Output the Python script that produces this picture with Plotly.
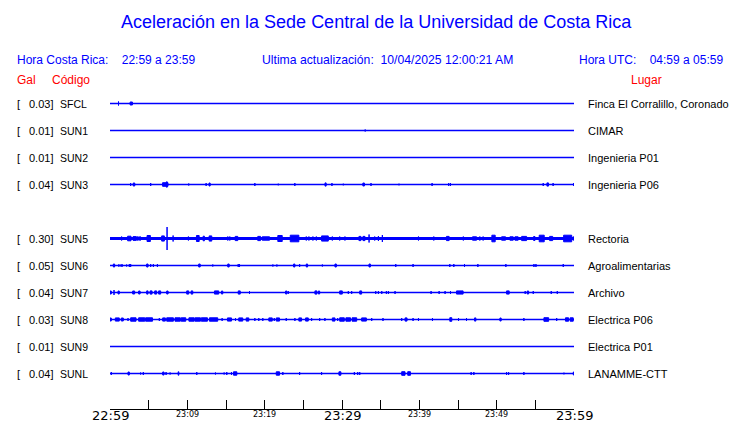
import plotly.graph_objects as go

# ---------------- data ----------------
TITLE = "Aceleración en la Sede Central de la Universidad de Costa Rica"
LOCAL_RANGE = "22:59 a 23:59"
UTC_RANGE = "04:59 a 05:59"
UPDATED = "10/04/2025 12:00:21 AM"

CODES = ["SFCL", "SUN1", "SUN2", "SUN3", "SUN5", "SUN6", "SUN7", "SUN8", "SUN9", "SUNL"]
PEAKS = [0.03, 0.01, 0.01, 0.04, 0.30, 0.05, 0.04, 0.03, 0.01, 0.04]
PLACES = ["Finca El Corralillo, Coronado", "CIMAR", "Ingenieria P01", "Ingenieria P06",
          "Rectoria", "Agroalimentarias", "Archivo", "Electrica P06", "Electrica P01",
          "LANAMME-CTT"]
ROWS = [0, 1, 2, 3, 5, 6, 7, 8, 9, 10]
NOISE = [0, 0, 0, 0, 1.0, 0, 0, 0, 0, 0]

TICK_MIN = list(range(0, 61, 5))
LABEL_MIN = [0, 10, 20, 30, 40, 50, 60]
LABEL_TEXT = ["22:59", "23:09", "23:19", "23:29", "23:39", "23:49", "23:59"]
LABEL_MAJOR = [True, False, False, True, False, False, True]

# events: (start minute, end minute, amplitude) minutes after 22:59
EV_SFCL = [(1.1, 1.1, 2.0), (2.6, 2.9, 1.5)]
EV_SUN1 = [(33.0, 33.0, 1.0)]
EV_SUN2 = []
EV_SUN3 = [(2.67, 2.67, 1.5), (3.0, 3.2, 1.5), (5.26, 5.26, 1.5), (6.8, 7.5, 1.8),
           (7.3, 7.4, 2.7), (10.18, 10.18, 1.0), (12.43, 12.43, 1.5), (12.8, 12.95, 1.5),
           (18.73, 18.73, 1.5), (21.76, 21.76, 0.8), (23.9, 23.9, 1.5), (27.8, 27.95, 1.6),
           (28.7, 28.7, 1.5), (30.17, 30.17, 0.8), (32.7, 32.9, 1.5), (33.75, 33.75, 1.5),
           (37.37, 37.37, 0.8), (41.65, 41.65, 1.5), (43.8, 43.8, 1.5), (44.03, 44.03, 1.5),
           (56.02, 56.02, 1.5), (56.5, 56.7, 1.6), (57.3, 57.3, 1.5), (59.96, 59.96, 1.5)]
EV_SUN5 = [(1.5, 1.5, 2), (2.28, 2.72, 2.3), (2.98, 3.41, 1.9), (3.57, 3.57, 2), (3.76, 3.76, 2),
           (3.92, 3.92, 2), (4.79, 5.22, 3.0), (6.68, 7.03, 2.6), (7.38, 7.38, 11.5),
           (8.16, 8.16, 3), (10.14, 10.14, 2), (11.18, 11.53, 3.0), (12.04, 12.21, 2.3),
           (12.82, 13.16, 2.6), (15.23, 15.23, 2), (15.49, 15.49, 2), (16.19, 16.52, 2.1),
           (19.11, 19.46, 2.1), (19.68, 20.63, 1.7), (21.7, 22.27, 3.0), (23.31, 24.42, 3.3),
           (25.38, 25.38, 2), (25.72, 25.72, 2), (26.24, 26.24, 2), (26.68, 26.68, 2),
           (27.36, 28.23, 2.6), (28.75, 28.75, 2), (29.7, 29.7, 2), (30.38, 30.38, 2),
           (32.19, 32.45, 2.1), (32.71, 32.97, 2.1), (33.5, 33.5, 4), (34.23, 34.23, 2),
           (34.71, 34.71, 2.5), (35.22, 35.22, 3.5), (39.89, 39.89, 2), (41.87, 41.87, 2),
           (43.51, 43.85, 2.1), (45.69, 45.69, 2), (46.88, 47.4, 1.7), (47.82, 47.82, 2),
           (48.25, 48.25, 2), (49.38, 49.81, 3.3), (50.64, 51.15, 1.7), (51.71, 52.14, 1.7),
           (52.36, 52.78, 1.7), (53.23, 53.87, 2.1), (54.78, 54.95, 2), (55.5, 56.15, 3.3),
           (56.85, 57.24, 2.1), (58.66, 59.7, 3.3), (59.91, 59.91, 2)]
EV_SUN6 = [(0.43, 0.6, 1.5), (1.11, 1.11, 1), (1.3, 1.3, 1), (1.55, 1.55, 1.5), (2.15, 2.15, 1),
           (2.5, 2.5, 1.5), (2.67, 2.67, 1.5), (4.74, 4.92, 1.5), (5.26, 5.26, 1.5),
           (5.61, 5.61, 1.5), (6.13, 6.13, 1.5), (11.47, 11.66, 1.5), (13.29, 13.29, 1),
           (15.23, 15.41, 1.5), (16.58, 16.58, 1.5), (16.75, 16.75, 1.5), (21.06, 21.06, 1),
           (21.58, 21.58, 1), (23.74, 23.91, 1.5), (24.52, 24.52, 1.5), (25.38, 25.55, 1.5),
           (27.46, 27.46, 1), (29.09, 29.27, 1.5), (33.49, 33.67, 1.5), (36.95, 36.95, 1.5),
           (39.19, 39.19, 1.5), (43.94, 43.94, 1.5), (44.46, 44.46, 1.5), (45.84, 45.84, 1.5),
           (47.57, 47.57, 1.5), (51.19, 51.19, 1.5), (54.82, 54.82, 1.5), (55.08, 55.08, 1.5),
           (58.61, 58.61, 1.5)]
EV_SUN7 = [(0.0, 0.17, 1.5), (0.52, 0.52, 2.5), (1.04, 1.2, 1.5), (2.93, 3.19, 1.5),
           (3.7, 3.89, 1.5), (4.74, 4.92, 1.6), (5.18, 5.44, 1.6), (5.78, 6.03, 1.6),
           (6.29, 6.55, 1.6), (7.33, 7.51, 1.5), (9.92, 10.18, 1.6), (10.49, 10.7, 1.6),
           (13.51, 14.06, 1.6), (14.41, 14.58, 1.5), (16.58, 16.84, 1.6), (18.04, 18.04, 1.5),
           (22.7, 22.87, 1.5), (23.05, 23.05, 1.5), (26.5, 26.76, 1.6), (26.94, 27.11, 1.5),
           (29.7, 30.04, 1.6), (30.82, 30.82, 1.5), (31.25, 31.25, 1.5), (32.29, 32.54, 1.6),
           (34.36, 34.36, 1.5), (34.71, 34.71, 1.5), (35.14, 35.14, 1.5), (35.74, 35.74, 1.5),
           (36.0, 36.0, 1.5), (36.86, 36.86, 1.5), (41.52, 41.52, 1.5), (42.56, 42.56, 1.5),
           (43.33, 43.33, 1.5), (44.03, 44.03, 1.5), (44.81, 45.66, 1.6), (51.28, 51.62, 1.6),
           (53.69, 53.69, 1.5), (53.95, 54.13, 1.5), (54.73, 54.73, 1.5), (57.06, 57.06, 1.5),
           (57.84, 57.84, 1.5)]
EV_SUN8 = [(0.0, 0.17, 1.5), (0.69, 1.2, 1.6), (1.46, 1.72, 1.5), (2.33, 2.33, 1.5),
           (2.67, 3.37, 1.7), (3.7, 4.5, 1.7), (4.6, 5.5, 1.7), (6.38, 6.38, 1.5),
           (6.81, 7.16, 1.6), (7.33, 8.2, 1.7), (8.4, 9.1, 1.7), (9.2, 9.8, 1.7),
           (10.2, 10.9, 1.7), (11.0, 11.7, 1.7), (11.8, 12.6, 1.7), (12.86, 13.93, 1.7),
           (14.5, 14.5, 1.5), (15.19, 15.71, 1.6), (16.23, 16.23, 1.5), (16.65, 17.17, 1.6),
           (17.61, 17.95, 1.6), (18.73, 18.73, 1.5), (19.24, 19.24, 1.5), (19.76, 19.76, 1.5),
           (20.54, 20.98, 1.6), (21.24, 21.24, 1.5), (21.5, 21.92, 1.6), (22.79, 22.79, 1.5),
           (23.91, 23.91, 1.5), (24.42, 24.77, 1.6), (25.29, 25.64, 1.6), (26.07, 26.07, 1.5),
           (27.11, 27.11, 1.5), (27.79, 27.79, 1.5), (28.75, 29.09, 1.6), (29.44, 29.44, 1.5),
           (29.7, 30.3, 1.7), (30.5, 31.1, 1.7), (31.3, 31.9, 1.7), (32.54, 33.15, 1.6),
           (33.84, 33.84, 1.5), (35.3, 35.3, 1.5), (37.72, 37.72, 1.5), (38.15, 38.41, 1.6),
           (39.19, 39.19, 1.5), (39.89, 39.89, 1.5), (41.7, 41.7, 1.5), (43.94, 44.2, 1.8),
           (45.07, 45.07, 1.5), (46.1, 46.1, 1.5), (47.14, 47.31, 1.6), (50.42, 50.58, 1.5),
           (53.52, 53.52, 1.5), (56.11, 56.72, 1.8), (57.76, 57.76, 1.5), (58.9, 59.3, 1.7),
           (59.5, 59.9, 1.7)]
EV_SUN9 = []
EV_SUNL = [(0.17, 0.17, 1.5), (2.33, 2.5, 1.5), (3.96, 3.96, 1.0), (4.31, 4.31, 1.5),
           (6.81, 6.99, 1.5), (7.25, 7.25, 1.5), (7.77, 7.77, 1.0), (8.81, 8.9, 1.7),
           (11.22, 11.22, 1.5), (13.64, 13.64, 1.0), (14.76, 14.76, 1.0), (15.1, 15.1, 1.5),
           (15.71, 15.71, 1.5), (15.97, 16.4, 1.7), (21.5, 21.92, 1.7), (22.35, 22.35, 1.5),
           (24.52, 24.52, 1.5), (27.36, 27.36, 1.5), (29.6, 29.86, 1.7), (31.6, 31.6, 1.5),
           (32.03, 32.03, 1.5), (32.29, 32.29, 1.5), (37.72, 38.15, 1.8), (38.5, 38.85, 1.8),
           (46.7, 46.7, 1.5), (47.05, 47.05, 1.5), (51.28, 51.28, 1.5), (51.54, 51.54, 1.5),
           (53.52, 53.52, 1.5), (58.7, 58.7, 0.8), (59.91, 60.0, 1.5)]

EVENTS = [EV_SFCL, EV_SUN1, EV_SUN2, EV_SUN3, EV_SUN5, EV_SUN6, EV_SUN7, EV_SUN8, EV_SUN9, EV_SUNL]

# ---------------- layout helpers ----------------
W, H = 740, 423
ML, MR, MT, MB = 110, 166, 90, 14
PW, PH = W - ML - MR, H - MT - MB
ROW_PX = 27.0
Y_TOP = -13.5 / ROW_PX
Y_BOT = Y_TOP + PH / ROW_PX
AMP = 1.0 / ROW_PX  # one amplitude unit in row units

BLUE = "#0000ff"
RED = "#ff0000"
SANS = "Liberation Sans, Arial, sans-serif"
DEJAVU = "DejaVu Sans, sans-serif"


def px(x):
    return (x - ML) / PW


def py(y):
    return (H - MB - y) / PH


fig = go.Figure()

for row, noise, evs in zip(ROWS, NOISE, EVENTS):
    fig.add_trace(go.Scatter(x=[0, 60], y=[row, row], mode="lines",
                             line=dict(color=BLUE, width=1.3), hoverinfo="skip"))
    xs, ys = [], []
    shapes = list(evs)
    if noise > 0:
        shapes = [(0, 60, noise)] + shapes
    for t0, t1, a in shapes:
        lo, hi = row - a * AMP, row + a * AMP
        xs += [t0, t1, t1, t0, t0, None]
        ys += [lo, lo, hi, hi, lo, None]
    if xs:
        fig.add_trace(go.Scatter(x=xs, y=ys, mode="lines", fill="toself",
                                 fillcolor=BLUE, line=dict(color=BLUE, width=1),
                                 hoverinfo="skip"))

ann = []
# title and header
ann.append(dict(text=TITLE, x=px(376), y=py(22), xref="paper", yref="paper",
                xanchor="center", yanchor="middle", showarrow=False,
                font=dict(family=SANS, size=18, color=BLUE)))
ann.append(dict(text="Hora Costa Rica:&nbsp;&nbsp;&nbsp; " + LOCAL_RANGE, x=px(15), y=py(60),
                xref="paper", yref="paper", xanchor="left", yanchor="middle",
                showarrow=False, font=dict(family=SANS, size=12, color=BLUE)))
ann.append(dict(text="Ultima actualización:&nbsp; " + UPDATED, x=px(260), y=py(60),
                xref="paper", yref="paper", xanchor="left", yanchor="middle",
                showarrow=False, font=dict(family=SANS, size=12.2, color=BLUE)))
ann.append(dict(text="Hora UTC:&nbsp;&nbsp;&nbsp; " + UTC_RANGE, x=px(725), y=py(60),
                xref="paper", yref="paper", xanchor="right", yanchor="middle",
                showarrow=False, font=dict(family=SANS, size=12, color=BLUE)))
ann.append(dict(text="Gal", x=px(15), y=py(80), xref="paper", yref="paper",
                xanchor="left", yanchor="middle", showarrow=False,
                font=dict(family=SANS, size=12, color=RED)))
ann.append(dict(text="Código", x=px(50), y=py(80), xref="paper", yref="paper",
                xanchor="left", yanchor="middle", showarrow=False,
                font=dict(family=SANS, size=12, color=RED)))
ann.append(dict(text="Lugar", x=px(646), y=py(80), xref="paper", yref="paper",
                xanchor="center", yanchor="middle", showarrow=False,
                font=dict(family=SANS, size=12, color=RED)))

for row, code, peak, place in zip(ROWS, CODES, PEAKS, PLACES):
    f = dict(family=SANS, size=11, color="black")
    ann.append(dict(text="[", x=px(15), y=row, xref="paper", yref="y",
                    xanchor="left", yanchor="middle", showarrow=False, font=f))
    ann.append(dict(text=f"{peak:.2f}]", x=px(55), y=row, xref="paper", yref="y",
                    xanchor="right", yanchor="middle", showarrow=False, font=f))
    ann.append(dict(text=code, x=px(58), y=row, xref="paper", yref="y",
                    xanchor="left", yanchor="middle", showarrow=False,
                    font=dict(family=SANS, size=10.5, color="black")))
    ann.append(dict(text=place, x=px(586), y=row, xref="paper", yref="y",
                    xanchor="left", yanchor="middle", showarrow=False, font=f))

for m, txt, major in zip(LABEL_MIN, LABEL_TEXT, LABEL_MAJOR):
    ann.append(dict(text=txt, x=m, y=py(415 if major else 414.5), xref="x", yref="paper",
                    xanchor="center", yanchor="middle", showarrow=False,
                    font=dict(family=DEJAVU, size=13 if major else 8, color="black")))

fig.update_layout(
    width=W, height=H,
    margin=dict(l=ML, r=MR, t=MT, b=MB, pad=0),
    paper_bgcolor="white", plot_bgcolor="white",
    showlegend=False, hovermode=False,
    annotations=ann,
    xaxis=dict(range=[0, 60], showgrid=False, zeroline=False, showline=True,
               linecolor="black", linewidth=1, ticks="inside", ticklen=9,
               tickcolor="black", tickwidth=1, tickvals=TICK_MIN,
               showticklabels=False, fixedrange=True),
    yaxis=dict(range=[Y_BOT, Y_TOP], visible=False, fixedrange=True),
)

fig.write_html("out.html", config={"displayModeBar": False},
               post_script="document.body.style.margin='0';document.body.style.overflow='hidden';")
